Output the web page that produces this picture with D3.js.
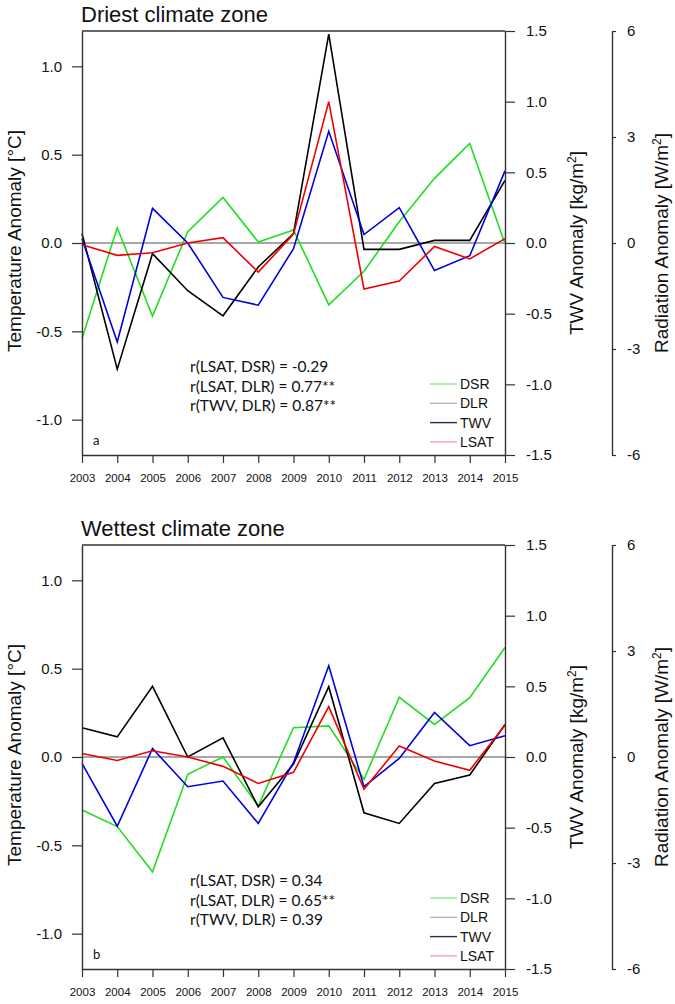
<!DOCTYPE html>
<html>
<head>
<meta charset="utf-8">
<script src="https://cdn.jsdelivr.net/npm/d3@7"></script>
<style>
  html, body { margin: 0; padding: 0; background: #fff; }
  svg { display: block; }
  text { font-family: "Liberation Sans", Arial, Helvetica, sans-serif; fill: #111; }
</style>
</head>
<body>
<svg id="chart" width="675" height="1004"></svg>
<script>
// ---------------- data ----------------
const years = [2003, 2004, 2005, 2006, 2007, 2008, 2009, 2010, 2011, 2012, 2013, 2014, 2015];

// Driest climate zone
const lsatDry = [-0.01, -0.07, -0.055, 0.0, 0.03, -0.165, 0.05, 0.80, -0.26, -0.215, -0.02, -0.09, 0.025]; // °C
const twvDry  = [0.03, -0.70, 0.245, 0.0, -0.385, -0.44, -0.04, 0.79, 0.06, 0.25, -0.195, -0.09, 0.51];   // kg/m2
const dlrDry  = [0.27, -3.57, -0.30, -1.35, -2.06, -0.68, 0.27, 5.91, -0.18, -0.18, 0.075, 0.075, 1.77];  // W/m2
const dsrDry  = [-2.70, 0.43, -2.07, 0.32, 1.29, 0.03, 0.37, -1.75, -0.80, 0.60, 1.83, 2.82, -0.02];    // W/m2

// Wettest climate zone
const lsatWet = [0.02, -0.02, 0.035, 0.0, -0.053, -0.15, -0.087, 0.285, -0.183, 0.062, -0.023, -0.075, 0.18];
const twvWet  = [-0.045, -0.49, 0.06, -0.21, -0.17, -0.47, -0.04, 0.645, -0.21, -0.01, 0.315, 0.08, 0.15];
const dlrWet  = [0.83, 0.57, 2.0, 0.0, 0.54, -1.41, -0.2, 1.99, -1.58, -1.88, -0.75, -0.51, 0.92];
const dsrWet  = [-1.50, -1.97, -3.25, -0.49, 0.0, -1.39, 0.83, 0.88, -0.63, 1.69, 0.92, 1.68, 3.10];

const titles = ["Driest climate zone", "Wettest climate zone"];
const panelLetters = ["a", "b"];
const corrTexts = [
  ["r(LSAT, DSR) = -0.29", "r(LSAT, DLR) = 0.77**", "r(TWV, DLR) = 0.87**"],
  ["r(LSAT, DSR) = 0.34", "r(LSAT, DLR) = 0.65**", "r(TWV, DLR) = 0.39"]
];
const legendLabels = ["DSR", "DLR", "TWV", "LSAT"];

const tempTicks = [-1.0, -0.5, 0.0, 0.5, 1.0];
const twvTicks = [-1.5, -1.0, -0.5, 0.0, 0.5, 1.0, 1.5];
const radTicks = [-6, -3, 0, 3, 6];

// ---------------- layout ----------------
const svg = d3.select("#chart");
const L = 82, R = 505, RAD_X = 612;
const panelTops = [31, 545];
const PH = 424;
const axisColor = "#333";
const seriesColors = { DSR: "#22dd22", DLR: "#000000", TWV: "#0000dd", LSAT: "#ee0000" };
const legendColors = ["#8fe88f", "#b8b8b8", "#2e2e48", "#f2a4b6"];

const panels = [
  { lsat: lsatDry, twv: twvDry, dlr: dlrDry, dsr: dsrDry },
  { lsat: lsatWet, twv: twvWet, dlr: dlrWet, dsr: dsrWet }
];

const x = d3.scaleLinear().domain([2003, 2015]).range([L, R]);

panels.forEach((p, i) => {
  const top = panelTops[i], bot = top + PH;
  const yT = d3.scaleLinear().domain([-1.2, 1.2]).range([bot, top]);
  const yW = d3.scaleLinear().domain([-1.5, 1.5]).range([bot, top]);
  const yR = d3.scaleLinear().domain([-6, 6]).range([bot, top]);
  const g = svg.append("g");

  // title
  g.append("text").attr("x", L - 1).attr("y", top - 9)
    .style("font-size", "22px").text(titles[i]);

  // zero line
  g.append("line").attr("x1", L).attr("x2", R).attr("y1", yT(0)).attr("y2", yT(0))
    .attr("stroke", "#8a8a8a").attr("stroke-width", 1.6);

  // series
  const mk = (scale) => d3.line().x((d, j) => x(years[j])).y(d => scale(d));
  const series = [
    { data: p.dsr, scale: yR, color: seriesColors.DSR },
    { data: p.dlr, scale: yR, color: seriesColors.DLR },
    { data: p.twv, scale: yW, color: seriesColors.TWV },
    { data: p.lsat, scale: yT, color: seriesColors.LSAT }
  ];
  series.forEach(s => {
    g.append("path").datum(s.data).attr("d", mk(s.scale))
      .attr("fill", "none").attr("stroke", s.color).attr("stroke-width", 1.6)
      .attr("stroke-linejoin", "miter");
  });

  // box top
  g.append("line").attr("x1", L).attr("x2", R).attr("y1", top).attr("y2", top)
    .attr("stroke", axisColor).attr("stroke-width", 1.4);

  const styleAxis = (sel, fs) => {
    sel.select(".domain").attr("stroke", axisColor).attr("stroke-width", 1.4);
    sel.selectAll(".tick line").attr("stroke", axisColor).attr("stroke-width", 1.2);
    sel.selectAll(".tick text").style("font-size", fs).attr("fill", "#111")
      .style("font-family", "'Liberation Sans', Arial, sans-serif");
  };

  // left temp axis
  const ga = g.append("g").attr("transform", `translate(${L},0)`)
    .call(d3.axisLeft(yT).tickValues(tempTicks).tickFormat(d => d.toFixed(1))
      .tickSize(10).tickSizeOuter(0).tickPadding(10));
  styleAxis(ga, "15px");

  // bottom x axis
  const gx = g.append("g").attr("transform", `translate(0,${bot})`)
    .call(d3.axisBottom(x).tickValues(years).tickFormat(d => String(d))
      .tickSize(8).tickSizeOuter(0).tickPadding(11));
  styleAxis(gx, "11.5px");

  // right TWV axis
  const gw = g.append("g").attr("transform", `translate(${R},0)`)
    .call(d3.axisRight(yW).tickValues(twvTicks).tickFormat(d => d.toFixed(1))
      .tickSize(10).tickSizeOuter(0).tickPadding(11));
  styleAxis(gw, "15px");

  // radiation axis
  const gr = g.append("g").attr("transform", `translate(${RAD_X},0)`)
    .call(d3.axisRight(yR).tickValues(radTicks).tickFormat(d => String(d))
      .tickSize(4).tickSizeOuter(0).tickPadding(11));
  styleAxis(gr, "15px");

  // axis titles
  const mid = (top + bot) / 2;
  const t1 = g.append("text").attr("transform", `translate(21,${mid - 2}) rotate(-90)`)
    .attr("text-anchor", "middle").style("font-size", "19px");
  t1.text("Temperature Anomaly [°C]");

  const t2 = g.append("text").attr("transform", `translate(583,${mid}) rotate(-90)`)
    .attr("text-anchor", "middle").style("font-size", "19px");
  t2.append("tspan").text("TWV Anomaly [kg/m");
  t2.append("tspan").attr("dy", -7).style("font-size", "12px").text("2");
  t2.append("tspan").attr("dy", 7).text("]");

  const t3 = g.append("text").attr("transform", `translate(668,${mid}) rotate(-90)`)
    .attr("text-anchor", "middle").style("font-size", "19px");
  t3.append("tspan").text("Radiation Anomaly [W/m");
  t3.append("tspan").attr("dy", -7).style("font-size", "12px").text("2");
  t3.append("tspan").attr("dy", 7).text("]");

  // correlation text
  corrTexts[i].forEach((t, k) => {
    g.append("text").attr("x", 190).attr("y", top + 341 + k * 19.5)
      .style("font-family", "Lato, 'Open Sans', sans-serif").style("font-size", "15.5px")
      .attr("fill", "#222").text(t);
  });

  // panel letter
  g.append("text").attr("x", 93).attr("y", top + 414)
    .style("font-family", "Lato, 'Open Sans', sans-serif").style("font-size", "13px")
    .text(panelLetters[i]);

  // legend
  legendLabels.forEach((lab, k) => {
    const yy = top + 353 + k * 19.3;
    g.append("line").attr("x1", 430).attr("x2", 457).attr("y1", yy).attr("y2", yy)
      .attr("stroke", legendColors[k]).attr("stroke-width", 1.4);
    g.append("text").attr("x", 460).attr("y", yy).attr("dy", "0.36em")
      .style("font-size", "14px").text(lab);
  });
});
</script>
</body>
</html>
